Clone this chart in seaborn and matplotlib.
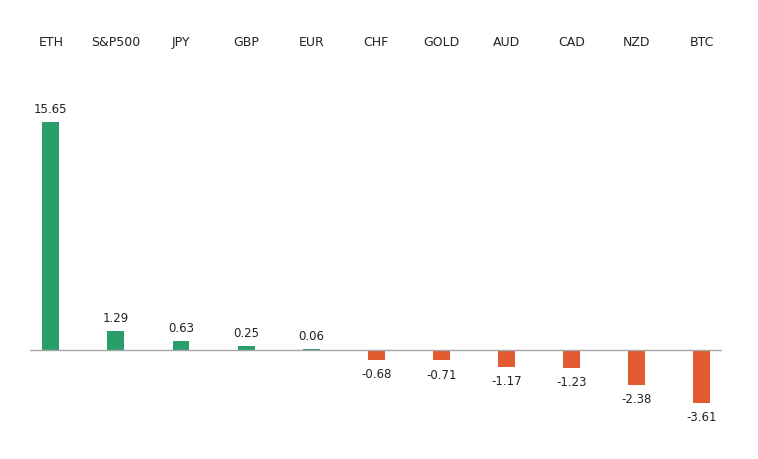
import matplotlib
matplotlib.use("Agg")
import matplotlib.pyplot as plt
import seaborn as sns
import pandas as pd

categories = ["ETH", "S&P500", "JPY", "GBP", "EUR", "CHF", "GOLD", "AUD", "CAD", "NZD", "BTC"]
values = [15.65, 1.29, 0.63, 0.25, 0.06, -0.68, -0.71, -1.17, -1.23, -2.38, -3.61]

df = pd.DataFrame({"cat": categories, "val": values})
df["sign"] = ["pos" if v >= 0 else "neg" for v in values]

fig = plt.figure(figsize=(7.58, 4.6), dpi=100)
ax = fig.add_axes([30/758, 1-420/460, 692/758, 320/460])
sns.barplot(data=df, x="cat", y="val", hue="sign", order=categories,
            palette={"pos": "#16B06C", "neg": "#FF4B12"}, dodge=False,
            width=0.26, legend=False, ax=ax)
ax.set_xlim(-0.32, 10.31)
ax.set_ylim(-4.74, 17.23)
ax.axhline(0, color="#A6A6A6", lw=1)
for s in ax.spines.values():
    s.set_visible(False)
ax.set_xticks([]); ax.set_yticks([])
ax.set_xlabel(""); ax.set_ylabel("")
for i, (c, v) in enumerate(zip(categories, values)):
    ax.text(i, 21.2, c, ha="center", va="center", fontsize=9, color="#222222", clip_on=False)
    if v >= 0:
        ax.text(i, v + 0.5, f"{v:.2f}", ha="center", va="bottom", fontsize=8.5, color="#222222")
    else:
        ax.text(i, v - 0.5, f"{v:.2f}", ha="center", va="top", fontsize=8.5, color="#222222")
fig.savefig("out.png", dpi=100)
